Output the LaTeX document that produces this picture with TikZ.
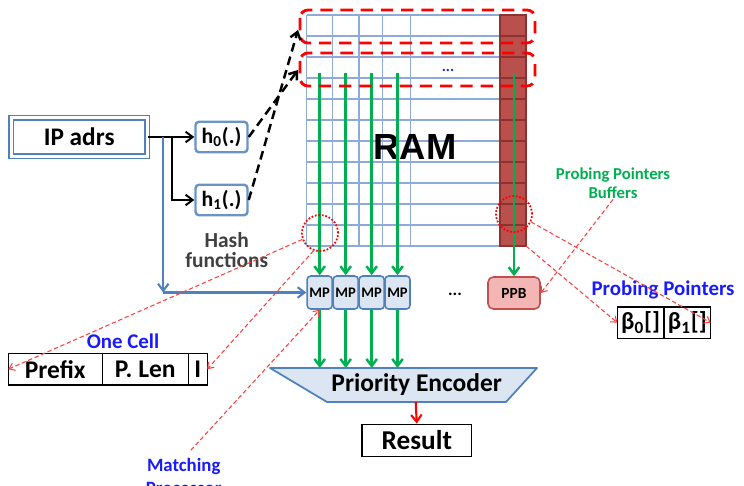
\documentclass[tikz,border=0pt]{standalone}
\usepackage{fontspec}
\setmainfont{Carlito}
\newfontfamily\ramfont{Liberation Sans}
\usetikzlibrary{arrows.meta}
\definecolor{gridblue}{HTML}{8EAADB}
\definecolor{boxblue}{HTML}{4F81BD}
\definecolor{boxfill}{HTML}{DCE6F2}
\definecolor{ppgreen}{HTML}{00B050}
\definecolor{colred}{HTML}{B9504C}
\definecolor{colline}{HTML}{8C3230}
\definecolor{ppbfill}{HTML}{F4B6B4}
\definecolor{ppbline}{HTML}{C0504D}
\definecolor{txtblue}{HTML}{1A1AFF}
\definecolor{hashgray}{HTML}{404040}
\definecolor{ptrred}{HTML}{FF4040}
\tikzset{
  ramgrid/.style={draw=gridblue, line width=0.8pt},
  ramcol/.style={fill=colred, draw=colline, line width=0.6pt, inner sep=0pt, outer sep=0pt},
  ramrow/.style={draw=colline, line width=0.6pt},
  hashrow/.style={draw=red, line width=1.6pt, dash pattern=on 7pt off 4.5pt, rounded corners=0.16cm},
  ipbox/.style={draw=boxblue, double=white, line width=0.7pt, double distance=1.8pt, minimum width=2.72cm, minimum height=0.77cm, inner sep=0pt, font=\fontsize{14.4}{16}\selectfont\bfseries},
  hashbox/.style={draw=boxblue!85, fill=white, line width=1.4pt, rounded corners=2pt, minimum width=1.04cm, minimum height=0.61cm, inner sep=0pt, font=\fontsize{12.4}{14}\selectfont\bfseries},
  hashnote/.style={align=center, text=hashgray, inner sep=0pt, font=\fontsize{12.2}{11.5}\selectfont\bfseries},
  mpbox/.style={draw=boxblue, fill=boxfill, line width=0.9pt, rounded corners=2pt, minimum width=0.5cm, minimum height=0.66cm, inner sep=0pt, font=\fontsize{8.3}{10}\selectfont\bfseries},
  ppbbox/.style={draw=ppbline, fill=ppbfill, line width=0.9pt, rounded corners=3pt, minimum width=1.04cm, minimum height=0.64cm, inner sep=0pt, font=\fontsize{8.8}{10}\selectfont\bfseries},
  encshape/.style={draw=boxblue, fill=boxfill, line width=1pt, line join=round},
  enctxt/.style={inner sep=0pt, font=\fontsize{14.5}{16}\selectfont\bfseries},
  resbox/.style={draw=black, line width=0.8pt, minimum width=2.19cm, minimum height=0.65cm, inner sep=0pt, font=\fontsize{15.5}{17}\selectfont\bfseries},
  cellbox/.style={draw=black, line width=0.8pt, minimum height=0.634cm, inner sep=0pt, outer sep=0pt, font=\fontsize{14.5}{16}\selectfont\bfseries},
  bluetxt/.style={text=txtblue, inner sep=0pt, font=\fontsize{11.9}{13}\selectfont\bfseries},
  greentxt/.style={text=ppgreen, align=center, inner sep=0pt, font=\fontsize{9.5}{11}\selectfont\bfseries},
  ramtxt/.style={inner sep=0pt, font=\fontsize{20.7}{22}\selectfont\ramfont\bfseries},
  probecirc/.style={circle, draw=red, line width=1pt, dash pattern=on 1pt off 1pt, minimum size=0.72cm, inner sep=0pt},
  grnarr/.style={draw=ppgreen, line width=1.4pt, -{Straight Barb[length=4pt,width=6pt]}},
  blkarr/.style={draw=black, line width=1.1pt, -{Straight Barb[length=4pt,width=6pt]}},
  bluearr/.style={draw=boxblue, line width=1.2pt, -{Straight Barb[length=4pt,width=6pt]}},
  redarr/.style={draw=red, line width=1.2pt, -{Straight Barb[length=4pt,width=6pt]}},
  hasharr/.style={draw=black, line width=1.4pt, dash pattern=on 5pt off 3pt, -{Straight Barb[length=4pt,width=6pt]}},
  ptrarr/.style={draw=ptrred, line width=0.6pt, dash pattern=on 2.5pt off 1.5pt, -{Straight Barb[length=3pt,width=4.5pt]}},
}
\begin{document}
\begin{tikzpicture}[x=0.02cm, y=-0.02cm]
\useasboundingbox (0,0) rectangle (744,486);
\foreach \k in {0,...,11}
  \draw[ramgrid] (306.7,{15+21*\k}) -- (500,{15+21*\k});
\foreach \x in {306.7,332.5,359,382.5,410.5}
  \draw[ramgrid] (\x,15) -- (\x,246);
\node[ramcol, minimum width=0.52cm, minimum height=4.62cm] (ppcol) at (513,130.5) {};
\foreach \k in {1,...,10}
  \draw[ramrow] (500,{15+21*\k}) -- (526,{15+21*\k});
\node[ramtxt] (ram) at (415,146.7) {RAM};
\node[text=txtblue, inner sep=0pt, font=\fontsize{8.8}{10}\selectfont\bfseries] (griddots) at (448,70) {...};

\node[ipbox] (ip) at (79.2,137) {IP adrs};
\node[hashbox] (h0) at (221.5,137) {h\textsubscript{0}(.)};
\node[hashbox] (h1) at (221.5,200) {h\textsubscript{1}(.)};
\node[hashnote] (hashtxt) at (226.7,250) {Hash\\functions};
\coordinate (fork) at (171.7,137);
\coordinate (tap) at (163.3,137);
\coordinate (bend) at (163.3,292.5);
\draw[blkarr] (ip.east) -- (h0.west);
\draw[blkarr] (fork) |- (h1.west);

\foreach \x [count=\i] in {319.7,345.7,371.7,397.5}
  \node[mpbox] (mp\i) at (\x,292.5) {MP};
\node[font=\fontsize{9.7}{10}\selectfont\bfseries, inner sep=0pt] (mpdots) at (455,294) {...};
\node[ppbbox] (ppb) at (514,293) {PPB};
\draw[bluearr] (tap) -- (bend);
\draw[bluearr] (bend) -- (mp1.west);

\foreach \x [count=\i] in {319.7,345.7,371.7,397.5} {
  \coordinate (rd\i) at (\x,73);
  \coordinate (pe\i) at (\x,368);
  \draw[grnarr] (rd\i) -- (mp\i.north);
  \draw[grnarr] (mp\i.south) -- (pe\i);
}
\coordinate (rdpp) at (514,73);
\draw[grnarr] (rdpp) -- (ppb.north);

\draw[hashrow] (300,10) rectangle (535,43);
\draw[hashrow] (300,53) rectangle (535,86);
\coordinate (slot0) at (298,30);
\coordinate (slot1) at (298,70);
\draw[hasharr] (h0.east) -- (slot1);
\draw[hasharr] (h1.east) -- (slot0);

\draw[encshape] (270,368) -- (537,368) -- (506,402) -- (327,402) -- cycle;
\node[enctxt] (enc) at (416.7,385) {Priority Encoder};
\coordinate (encout) at (415.7,402);
\node[resbox] (res) at (416.8,440.5) {Result};
\draw[redarr] (encout) -- (res.north);

\node[bluetxt] (onecell) at (123,341.7) {One Cell};
\node[cellbox, minimum width=1.88cm] (prefix) at (55.3,369.2) {Prefix};
\node[cellbox, minimum width=1.72cm, anchor=west] (plen) at (prefix.east) {P. Len};
\node[cellbox, minimum width=0.38cm, anchor=west] (flag) at (plen.east) {I};

\node[bluetxt] (pplbl) at (663,290) {Probing Pointers};
\node[cellbox, minimum width=0.934cm, font=\fontsize{14}{16}\selectfont\bfseries] (beta0) at (640.7,322.7) {β\textsubscript{0}[]};
\node[cellbox, minimum width=0.934cm, anchor=west, font=\fontsize{14}{16}\selectfont\bfseries] (beta1) at (beta0.east) {β\textsubscript{1}[]};
\node[greentxt] (ppbuf) at (613,183.5) {Probing Pointers\\Buffers};
\node[bluetxt, align=center, anchor=north, font=\fontsize{10.7}{13}\selectfont\bfseries] (mtxt) at (183.7,458) {Matching\\Processor};

\node[probecirc] (cellmark) at (320,233) {};
\node[probecirc] (ppmark) at (514,214) {};
\draw[ptrarr] (cellmark.200) -- (prefix.west);
\draw[ptrarr] (cellmark.250) -- (flag.east);
\draw[ptrarr, shorten <=6pt] (mtxt.north) -- (mp1.south);
\draw[ptrarr] (ppmark.335) -- (beta1.east);
\draw[ptrarr] (ppcol.south east) -- (beta0.west);
\draw[ptrarr] (ppbuf.south) -- (ppb.east);
\end{tikzpicture}
\end{document}
